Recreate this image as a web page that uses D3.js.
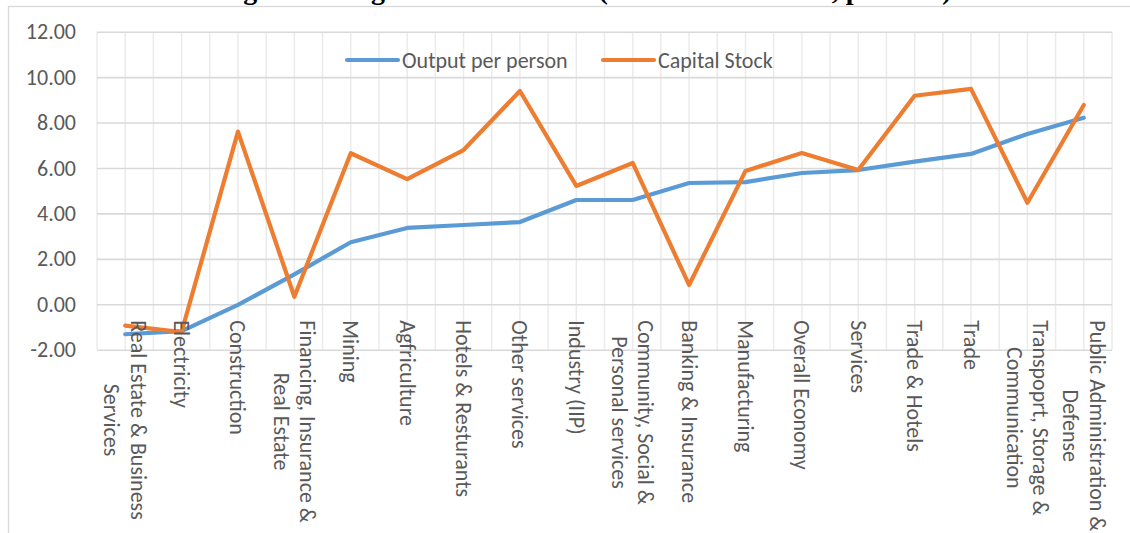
<!DOCTYPE html>
<html><head><meta charset="utf-8">
<script src="https://cdn.jsdelivr.net/npm/d3@7"></script>
<style>
html,body{margin:0;padding:0;background:#fff;overflow:hidden}
svg{display:block}
</style></head>
<body>
<svg id="chart" width="1130" height="533"></svg>
<script>
const categories = [
  "Real Estate & Business\nServices",
  "Electricity",
  "Construction",
  "Financing, Insurance &\nReal Estate",
  "Mining",
  "Agfriculture",
  "Hotels & Resturants",
  "Other services",
  "Industry (IIP)",
  "Community, Social &\nPersonal services",
  "Banking & Insurance",
  "Manufacturing",
  "Overall Economy",
  "Services",
  "Trade & Hotels",
  "Trade",
  "Transpoprt, Storage &\nCommunication",
  "Public Administration &\nDefense"
];
const outputPerPerson = [-1.32, -1.18, -0.03, 1.32, 2.73, 3.36, 3.49, 3.62, 4.59, 4.59, 5.34, 5.38, 5.78, 5.91, 6.28, 6.62, 7.50, 8.21];
const capitalStock    = [-0.94, -1.22, 7.60, 0.33, 6.65, 5.51, 6.79, 9.39, 5.21, 6.22, 0.85, 5.87, 6.66, 5.91, 9.18, 9.48, 4.47, 8.77];
const yTicks = [-2, 0, 2, 4, 6, 8, 10, 12];
const seriesNames = ["Output per person", "Capital Stock"];
const seriesColors = ["#5B9BD5", "#ED7D31"];
const titleText = "Fig. 3: Average Annual Growth (1980-81 to 2009-10, per cent)";

const FONT = "Carlito, Calibri, 'Liberation Sans Narrow', 'Open Sans', sans-serif";
const svg = d3.select("#chart");
const W = 1130, H = 533;
const plot = {left: 97, right: 1112, top: 31.7, bottom: 349.7};

const x = d3.scaleBand().domain(d3.range(categories.length)).range([plot.left, plot.right]).paddingInner(0).paddingOuter(0);
const y = d3.scaleLinear().domain([-2, 12]).range([plot.bottom, plot.top]);
const cx = i => x(i) + x.bandwidth() / 2;

// outer frame
svg.append("rect").attr("x", 8.5).attr("y", 6.5).attr("width", W + 20).attr("height", H + 20)
  .attr("fill", "#fff").attr("stroke", "#d9d9d9").attr("stroke-width", 1.3);

// title (clipped at the top edge, as in the source image)
svg.append("text").attr("x", 585).attr("y", -1).attr("text-anchor", "middle")
  .attr("font-family", "'Liberation Serif', 'DejaVu Serif', serif").attr("font-weight", "bold")
  .attr("font-size", 28).attr("fill", "#000").text(titleText);

// vertical gridlines (category boundaries and centres)
const vLines = [];
categories.forEach((c, i) => { vLines.push(x(i)); vLines.push(cx(i)); });
vLines.push(plot.right);
svg.append("g").selectAll("line").data(vLines).join("line")
  .attr("x1", d => d).attr("x2", d => d).attr("y1", plot.top).attr("y2", plot.bottom)
  .attr("stroke", "#ebebeb").attr("stroke-width", 1.5);

// horizontal gridlines + y labels
const fmt = d3.format(".2f");
const yAxis = d3.axisLeft(y).tickValues(yTicks).tickSize(-(plot.right - plot.left))
  .tickFormat(d => fmt(d).replace("\u2212", "-")).tickPadding(21);
const gy = svg.append("g").attr("transform", `translate(${plot.left},0)`).call(yAxis);
gy.select(".domain").remove();
gy.selectAll(".tick line").attr("stroke", "#d9d9d9").attr("stroke-width", 1.6);
gy.selectAll(".tick text").attr("font-family", FONT).attr("font-size", 22).attr("fill", "#595959");

// lines
const line = d3.line().x((d, i) => cx(i)).y(d => y(d));
[outputPerPerson, capitalStock].forEach((s, k) => {
  svg.append("path").datum(s).attr("d", line).attr("fill", "none")
    .attr("stroke", seriesColors[k]).attr("stroke-width", 4.2)
    .attr("stroke-linejoin", "round").attr("stroke-linecap", "round");
});

// category labels, rotated 90deg, placed below the zero line
const labelTop = y(0) + 16;
const L = 26.5;
const lg = svg.append("g");
categories.forEach((c, i) => {
  const lines = c.split("\n");
  const g = lg.append("g").attr("transform", `translate(${cx(i)},${labelTop}) rotate(90)`);
  const t = g.append("text").attr("font-family", FONT).attr("font-size", 22).attr("fill", "#595959");
  const spans = lines.map((ln, j) => t.append("tspan").attr("y", (j - (lines.length - 1) / 2) * L)
    .attr("dominant-baseline", "central").text(ln));
  const widths = spans.map(s => s.node().getComputedTextLength());
  const mw = d3.max(widths);
  spans.forEach(s => s.attr("x", mw / 2).attr("text-anchor", "middle"));
});

// legend
const legendItems = [{x: 347, i: 0}, {x: 603, i: 1}];
const leg = svg.append("g");
legendItems.forEach(it => {
  leg.append("line").attr("x1", it.x).attr("x2", it.x + 51).attr("y1", 60).attr("y2", 60)
    .attr("stroke", seriesColors[it.i]).attr("stroke-width", 4.2).attr("stroke-linecap", "round");
  leg.append("text").attr("x", it.x + 55).attr("y", 60).attr("dominant-baseline", "central")
    .attr("font-family", FONT).attr("font-size", 22).attr("fill", "#595959").text(seriesNames[it.i]);
});
</script>
</body></html>
